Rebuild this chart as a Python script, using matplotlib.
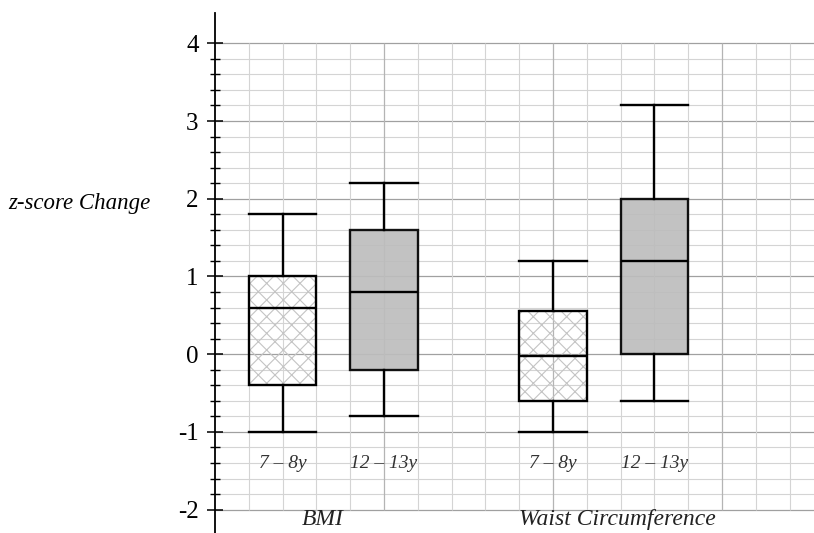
import numpy as np
import matplotlib
matplotlib.use("Agg")
import matplotlib.pyplot as plt
from matplotlib.patches import PathPatch

# box statistics
groups = ["BMI", "Waist Circumference"]
ages = ["7 – 8y", "12 – 13y", "7 – 8y", "12 – 13y"]
whislo = [-1.0, -0.8, -1.0, -0.6]
q1 = [-0.4, -0.2, -0.6, 0.0]
med = [0.6, 0.8, -0.02, 1.2]
q3 = [1.0, 1.6, 0.55, 2.0]
whishi = [1.8, 2.2, 1.2, 3.2]
positions = [2, 5, 10, 13]
hatched = [True, False, True, False]
group_x = [3.2, 11.9]

yticks = [-2, -1, 0, 1, 2, 3, 4]

plt.rcParams['font.family'] = ['Liberation Serif', 'DejaVu Serif']
plt.rcParams['hatch.linewidth'] = 0.8

fig = plt.figure(figsize=(8.14, 5.33), dpi=100)
W, H = 814, 533
x0, y_top = 215, 13
xmax = (W - x0) / 33.8
ymin, ymax = -2.30, 4.39
ax = fig.add_axes([x0 / W, 0, 1 - x0 / W, (H - y_top) / H])
ax.set_xlim(0, xmax)
ax.set_ylim(ymin, ymax)

# grid paper
for y in np.round(np.arange(-2, 4.01, 0.2), 2):
    major = abs(y - round(y)) < 1e-6
    ax.hlines(y, 0, xmax, color='#a0a0a0' if major else '#d4d4d4',
              lw=0.9 if major else 0.8, zorder=0)
for x in range(1, int(xmax) + 1):
    ax.vlines(x, -2, 4, color='#b4b4b4' if x % 5 == 0 else '#d4d4d4',
              lw=0.9 if x % 5 == 0 else 0.8, zorder=0)

stats = []
for i in range(4):
    stats.append(dict(whislo=whislo[i], q1=q1[i], med=med[i], q3=q3[i],
                      whishi=whishi[i], fliers=[]))

bp = ax.bxp(stats, positions=positions, widths=2, capwidths=2,
            patch_artist=True, showfliers=False, manage_ticks=False,
            boxprops=dict(lw=1.7, edgecolor='black'),
            whiskerprops=dict(lw=1.7, color='black'),
            capprops=dict(lw=1.7, color='black'),
            medianprops=dict(lw=1.7, color='black'))

for box, h in zip(bp['boxes'], hatched):
    if h:
        box.set_facecolor('none')
        hp = PathPatch(box.get_path(), transform=box.get_transform(),
                       facecolor='none', edgecolor='#c4c4c4', hatch='xx',
                       lw=0, zorder=1.5)
        ax.add_patch(hp)
    else:
        box.set_facecolor('#bdbdbd')
        box.set_alpha(0.92)
        box.set_edgecolor('black')
    box.set_zorder(2)

for p, a in zip(positions, ages):
    ax.text(p, -1.40, a, ha='center', va='center', fontsize=14,
            style='italic', color='#333333')
for gx, g in zip(group_x, groups):
    ax.text(gx, -2.12, g, ha='center', va='center', fontsize=17,
            style='italic', color='#222222')

for s in ['top', 'right', 'bottom']:
    ax.spines[s].set_visible(False)
ax.spines['left'].set_linewidth(1.3)
ax.set_xticks([])
ax.set_yticks(yticks)
ax.set_yticklabels([str(t) for t in yticks])
ax.set_yticks(np.arange(-2, 4.01, 0.2), minor=True)
ax.tick_params(axis='y', which='major', direction='inout', length=11.5,
               width=1.1, labelsize=18, pad=6)
ax.tick_params(axis='y', which='minor', direction='inout', length=7.2,
               width=1.0)

fig.text(8 / W, 1 - 204 / H, "z-score Change", ha='left', va='center',
         fontsize=16.5, style='italic')

fig.savefig("out.png", dpi=100)
